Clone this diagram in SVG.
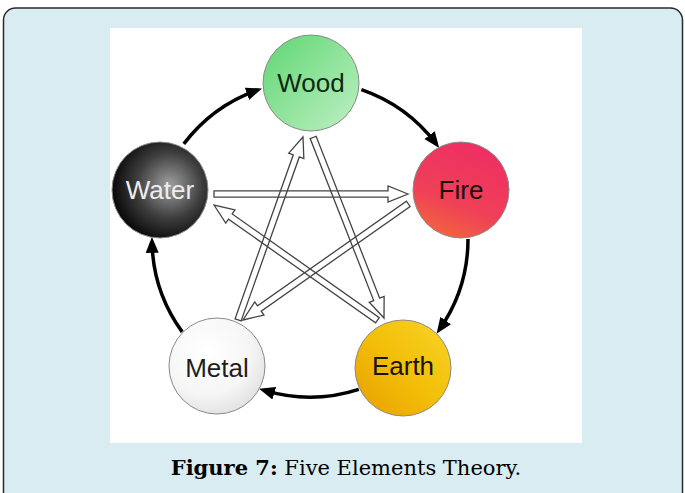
<svg xmlns="http://www.w3.org/2000/svg" width="685" height="493" viewBox="0 0 685 493">
<style>
.lbl{font-family:"Liberation Sans",Arial,sans-serif;font-size:26px;text-anchor:middle;dominant-baseline:central}
.ring{stroke:#8a8a8a;stroke-width:1}
.cyc{fill:none;stroke:#000;stroke-width:3.5}
.ctl{fill:none;stroke:#444;stroke-width:1.3;stroke-linejoin:miter}
.cap{font-family:"DejaVu Serif","Liberation Serif",serif;font-size:21px;text-anchor:middle}
</style>
<defs>
<marker id="ah" markerUnits="userSpaceOnUse" markerWidth="18" markerHeight="14" refX="11" refY="6.5" orient="auto">
<path d="M0,0 L16,6.5 L0,13 z" fill="#000"/>
</marker>
<linearGradient id="gWood" x1="0" y1="0" x2="1" y2="1">
<stop offset="0" stop-color="#5fd672"/><stop offset="1" stop-color="#bff0c4"/>
</linearGradient>
<radialGradient id="gWater" cx="0.6" cy="0.45" r="0.62">
<stop offset="0" stop-color="#a0a0a0"/><stop offset="0.55" stop-color="#3e3e3e"/><stop offset="1" stop-color="#050505"/>
</radialGradient>
<linearGradient id="gFire" x1="0.6" y1="0" x2="0.2" y2="1">
<stop offset="0" stop-color="#ee2f62"/><stop offset="0.6" stop-color="#ef4058"/><stop offset="1" stop-color="#f2683a"/>
</linearGradient>
<radialGradient id="gMetal" cx="0.4" cy="0.35" r="0.75">
<stop offset="0" stop-color="#ffffff"/><stop offset="0.6" stop-color="#f6f6f6"/><stop offset="1" stop-color="#dcdcdc"/>
</radialGradient>
<linearGradient id="gEarth" x1="0" y1="1" x2="1" y2="0">
<stop offset="0" stop-color="#e89e00"/><stop offset="0.5" stop-color="#f3bf08"/><stop offset="1" stop-color="#f8d42a"/>
</linearGradient>
</defs>
<rect x="0" y="0" width="685" height="493" fill="#ffffff"/>
<rect x="3.5" y="8" width="679" height="510" rx="12" fill="#d8ecf1" stroke="#2a2a2a" stroke-width="1.5"/>
<rect x="110" y="28" width="472" height="415" fill="#ffffff"/>
<g id="connectors">
<path class="cyc" d="M183.8,143.9 A158,158 0 0 1 257.3,90.1" marker-end="url(#ah)"/>
<path class="cyc" d="M361.4,89.6 A158,158 0 0 1 436.2,143.9" marker-end="url(#ah)"/>
<path class="cyc" d="M468,239 A158,158 0 0 1 439.4,329.6" marker-end="url(#ah)"/>
<path class="cyc" d="M358.8,389.3 A158,158 0 0 1 263.8,390.1" marker-end="url(#ah)"/>
<path class="cyc" d="M182.2,331.9 A158,158 0 0 1 152,241.8" marker-end="url(#ah)"/>
<polygon class="ctl" transform="translate(408,194)" points="0,0 -20,-8 -20,-3.2 -194,-3.2 -194,3.2 -20,3.2 -20,8"/>
<polygon class="ctl" transform="translate(243,320) rotate(144.9)" points="0,0 -20,-8 -20,-3.2 -202,-3.2 -202,3.2 -20,3.2 -20,8"/>
<polygon class="ctl" transform="translate(303,137) rotate(-70.45)" points="0,0 -20,-8 -20,-3.2 -194,-3.2 -194,3.2 -20,3.2 -20,8"/>
<polygon class="ctl" transform="translate(384,318) rotate(68.58)" points="0,0 -20,-8 -20,-3.2 -194,-3.2 -194,3.2 -20,3.2 -20,8"/>
<polygon class="ctl" transform="translate(214,205) rotate(-144.8)" points="0,0 -20,-8 -20,-3.2 -200,-3.2 -200,3.2 -20,3.2 -20,8"/>
</g>
<g id="wood"><circle class="ring" cx="311" cy="83" r="48" fill="url(#gWood)"/><text class="lbl" x="311" y="83" fill="#0e2a10">Wood</text></g>
<g id="fire"><circle class="ring" cx="461" cy="190" r="48" fill="url(#gFire)"/><text class="lbl" x="461" y="190" fill="#1a1010">Fire</text></g>
<g id="earth"><circle class="ring" cx="403" cy="368" r="48" fill="url(#gEarth)"/><text class="lbl" x="403" y="366" fill="#1a1408">Earth</text></g>
<g id="metal"><circle class="ring" cx="217" cy="366" r="48" fill="url(#gMetal)"/><text class="lbl" x="217" y="368" fill="#1e1e1e">Metal</text></g>
<g id="water"><circle class="ring" cx="160" cy="190" r="48" fill="url(#gWater)"/><text class="lbl" x="160" y="190" fill="#eeeeee">Water</text></g>
<text class="cap" x="346" y="475"><tspan font-weight="bold">Figure 7:</tspan> Five Elements Theory.</text>
</svg>
